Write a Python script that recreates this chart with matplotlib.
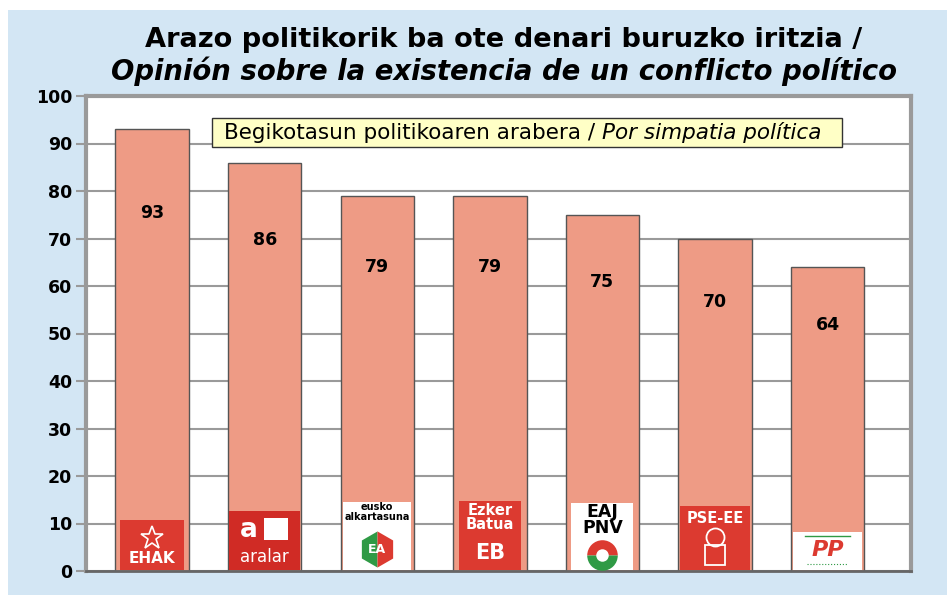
#%% Importing libraries

import numpy as np
from matplotlib import pyplot as plt
from matplotlib.patches import Rectangle

#%% Data

parties = ['EHAK', 'Aralar', 'EA', 'EB', 'EAJ-PNV', 'PSE-EE', 'PP']
values  = [93, 86, 79, 79, 75, 70, 64]
yticks  = [0, 10, 20, 30, 40, 50, 60, 70, 80, 90, 100]

title1 = 'Arazo politikorik ba ote denari buruzko iritzia /'
title2 = 'Opinión sobre la existencia de un conflicto político'
note1  = 'Begikotasun politikoaren arabera / '
note2  = 'Por simpatia política'

#%% Style

plt.rcParams['font.family'] = ['DejaVu Sans']
blue  = '#d3e6f4'
bar_c = '#ee9b85'
red   = '#dc3a30'
green = '#2f9a45'
grey  = '#9a9a9a'

fig = plt.figure(figsize = (9.47, 6), dpi = 100)
fig.patches.append(Rectangle((8/947, 5/600), 1, 585/600, transform = fig.transFigure,
                             facecolor = blue, edgecolor = 'none', zorder = -10))

ax = fig.add_axes([86/947, 29/600, 825/947, 475/600])
x = np.arange(len(parties))

ax.bar(x, values, width = 0.653, color = bar_c, edgecolor = '#555555', linewidth = 1, zorder = 2)

for i, v in enumerate(values):
    ax.text(i, v*0.81, str(v), ha = 'center', va = 'center', fontsize = 12.5, fontweight = 'bold', zorder = 5)

ax.set_xlim(-0.588, 6.742)
ax.set_ylim(0, 100)
ax.set_xticks([])
ax.set_yticks(yticks)
ax.set_yticklabels([str(t) for t in yticks], fontsize = 12.5, fontweight = 'bold')
ax.tick_params(axis = 'y', length = 7, width = 1.5, color = grey, pad = 3)
ax.yaxis.grid(True, color = grey, linewidth = 1.5, zorder = 0)
ax.set_axisbelow(True)
ax.set_facecolor('white')
for s in ['left', 'top', 'right']:
    ax.spines[s].set_color(grey)
    ax.spines[s].set_linewidth(3)
ax.spines['bottom'].set_color('#666666')
ax.spines['bottom'].set_linewidth(2)

#%% Party logos (rough drawings)

def box(i, w, h, fc):
    ax.add_patch(Rectangle((i - w/2, 0.2), w, h, facecolor = fc, edgecolor = 'none', zorder = 3))

# EHAK
box(0, 0.574, 10.5, red)
ax.plot(0, 6.9, marker = '*', markersize = 17, markerfacecolor = 'none', markeredgecolor = 'white', markeredgewidth = 1.2, zorder = 4)
ax.text(0, 2.6, 'EHAK', ha = 'center', va = 'center', color = 'white', fontsize = 11, fontweight = 'bold', zorder = 4)

# Aralar
box(1, 0.635, 12.4, '#d02b25')
ax.text(1, 3.0, 'aralar', ha = 'center', va = 'center', color = 'white', fontsize = 12, zorder = 4)
ax.text(0.86, 8.6, 'a', ha = 'center', va = 'center', color = 'white', fontsize = 19, fontweight = 'bold', zorder = 4)
ax.add_patch(Rectangle((0.99, 6.6), 0.22, 4.6, facecolor = 'white', edgecolor = 'none', zorder = 4))

# EA
box(2, 0.607, 14.3, 'white')
ax.text(2, 12.4, 'eusko\nalkartasuna', ha = 'center', va = 'center', color = 'black', fontsize = 7, fontweight = 'bold', linespacing = 0.9, zorder = 4)
ax.plot(2, 4.6, marker = 'h', markersize = 26, fillstyle = 'left', markerfacecolor = green,
        markerfacecoloralt = red, markeredgecolor = 'none', zorder = 4)
ax.text(2, 4.6, 'EA', ha = 'center', va = 'center', color = 'white', fontsize = 9, fontweight = 'bold', zorder = 5)

# EB
box(3, 0.55, 14.5, red)
ax.text(3, 11.3, 'Ezker\nBatua', ha = 'center', va = 'center', color = 'white', fontsize = 10.5, fontweight = 'bold', linespacing = 0.9, zorder = 4)
ax.text(3, 3.8, 'EB', ha = 'center', va = 'center', color = 'white', fontsize = 15, fontweight = 'bold', zorder = 4)

# EAJ-PNV
box(4, 0.55, 14.1, 'white')
ax.text(4, 10.7, 'EAJ\nPNV', ha = 'center', va = 'center', color = 'black', fontsize = 12.5, fontweight = 'bold', linespacing = 0.85, zorder = 4)
ax.plot(4, 3.3, marker = 'o', markersize = 22, fillstyle = 'top', markerfacecolor = red,
        markerfacecoloralt = green, markeredgecolor = 'none', zorder = 4)
ax.plot(4, 3.3, marker = 'o', markersize = 9, color = 'white', markeredgecolor = 'none', zorder = 5)

# PSE-EE
box(5, 0.628, 13.5, red)
ax.text(5, 11.1, 'PSE-EE', ha = 'center', va = 'center', color = 'white', fontsize = 10.5, fontweight = 'bold', zorder = 4)
ax.plot(5, 7.2, marker = 'o', markersize = 13, markerfacecolor = 'none', markeredgecolor = 'white', markeredgewidth = 1.3, zorder = 4)
ax.plot(5, 3.4, marker = 's', markersize = 14, markerfacecolor = 'none', markeredgecolor = 'white', markeredgewidth = 1.3, zorder = 4)

# PP
box(6, 0.613, 8.0, 'white')
ax.text(6, 4.4, 'PP', ha = 'center', va = 'center', color = red, fontsize = 16, fontweight = 'bold', fontstyle = 'italic', zorder = 4)
ax.plot([5.8, 6.2], [7.3, 7.3], color = green, linewidth = 1, zorder = 4)
ax.plot([5.82, 6.18], [1.5, 1.5], color = green, linewidth = 0.8, linestyle = ':', zorder = 4)

#%% Note box

ax.add_patch(Rectangle((0.153, 0.893), 0.763, 0.061, transform = ax.transAxes,
                       facecolor = '#ffffc6', edgecolor = '#333333', linewidth = 1, zorder = 6))
t1 = ax.text(0.167, 0.9225, note1, transform = ax.transAxes, ha = 'left', va = 'center', fontsize = 15.5, zorder = 7)
ax.annotate(note2, xy = (1, 0.5), xycoords = t1, ha = 'left', va = 'center', fontsize = 15.5, fontstyle = 'italic', zorder = 7)

#%% Title

fig.text(504/947, 1 - 40/600, title1, ha = 'center', va = 'center', fontsize = 19.6, fontweight = 'bold')
fig.text(504/947, 1 - 71/600, title2, ha = 'center', va = 'center', fontsize = 19.8, fontweight = 'bold', fontstyle = 'italic')

plt.savefig('out.png', dpi = 100)
